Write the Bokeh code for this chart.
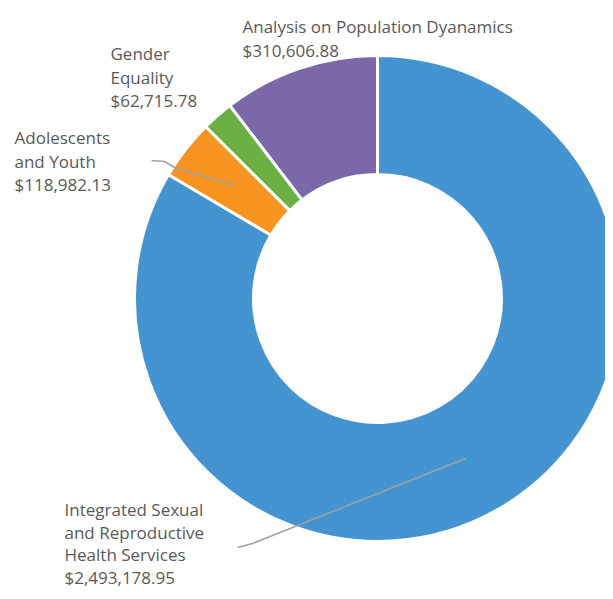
import numpy as np
from bokeh.plotting import figure
from bokeh.models import Range1d, ColumnDataSource
from bokeh.core.properties import value
from bokeh.embed import file_html
from bokeh.resources import INLINE

# Data (order: counter-clockwise from 12 o'clock)
categories = ["Analysis on Population Dyanamics", "Gender Equality",
              "Adolescents and Youth",
              "Integrated Sexual and Reproductive Health Services"]
amounts = [310606.88, 62715.78, 118982.13, 2493178.95]
amount_labels = ["$310,606.88", "$62,715.78", "$118,982.13", "$2,493,178.95"]
colors = ["#7B68A9", "#6BB043", "#F7931E", "#4594D2"]

W, H = 605, 591
p = figure(width=W, height=H, output_backend="svg", toolbar_location=None,
           x_range=Range1d(0, W), y_range=Range1d(-H, 0), min_border=0,
           match_aspect=False)
p.axis.visible = False
p.xgrid.visible = False
p.ygrid.visible = False
p.outline_line_color = None
p.background_fill_color = "white"

cx, cy = 377, -298
r_out, r_in = 243, 124

vals = np.array(amounts)
frac = vals / vals.sum()
ends = np.pi / 2 + 2 * np.pi * np.cumsum(frac)
starts = np.concatenate([[np.pi / 2], ends[:-1]])
src = ColumnDataSource(dict(start=starts, end=ends, color=colors))
p.annular_wedge(x=cx, y=cy, inner_radius=r_in, outer_radius=r_out,
                start_angle="start", end_angle="end", direction="anticlock",
                fill_color="color", line_color="white", line_width=3,
                source=src)

# leader lines
p.line(x=[151, 164, 174, 234], y=[-160, -161, -167, -185],
       line_color="#A0A0A0", line_width=1.5)
p.line(x=[237, 252, 465], y=[-547, -543, -458],
       line_color="#A0A0A0", line_width=1.5)

def label(x, y_top, lines, step=23.7):
    ys = [y_top - i * step for i in range(len(lines))]
    p.text(x=[x] * len(lines), y=ys, text=lines, text_font=value("Open Sans"),
           text_font_size="17px", text_color="#595959",
           text_baseline="middle", text_align="left")

label(242, -26, ["Analysis on Population Dyanamics", amount_labels[0]])
label(110, -53, ["Gender", "Equality", amount_labels[1]])
label(14, -137, ["Adolescents", "and Youth", amount_labels[2]])
label(64, -509, ["Integrated Sexual", "and Reproductive", "Health Services",
                 amount_labels[3]], step=22.5)

open("out.html", "w").write(file_html(p, INLINE))
